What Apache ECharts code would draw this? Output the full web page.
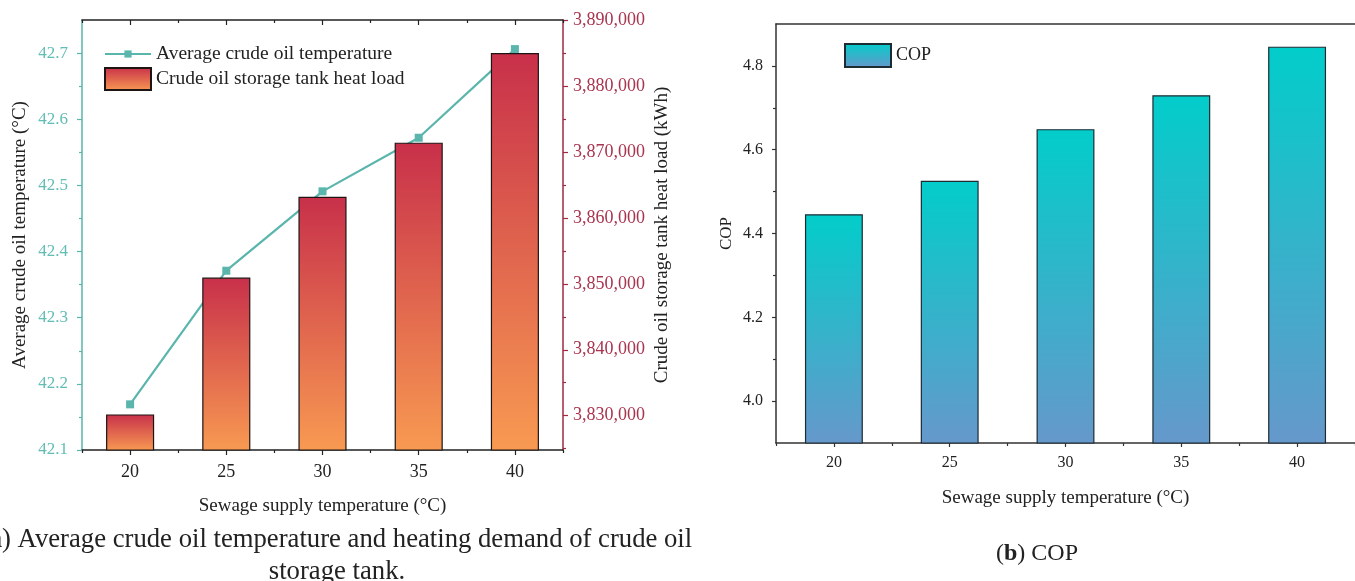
<!DOCTYPE html>
<html>
<head>
<meta charset="utf-8">
<script src="https://cdn.jsdelivr.net/npm/echarts@6/dist/echarts.min.js"></script>
<style>
html,body{margin:0;padding:0;background:#fff;}
#chart{width:1355px;height:581px;}
</style>
</head>
<body>
<div id="chart"></div>
<script>
// ---- data ----
var categories = ['20', '25', '30', '35', '40'];
var avgOilTemp = [42.169, 42.371, 42.491, 42.572, 42.706];
var tankHeatLoad = [3830200, 3850950, 3863200, 3871400, 3885000];
var copValues = [4.446, 4.526, 4.649, 4.730, 4.846];

var tempTicks = [42.1, 42.2, 42.3, 42.4, 42.5, 42.6, 42.7];
var tempMinorTicks = [42.15, 42.25, 42.35, 42.45, 42.55, 42.65];
var loadTicks = [3830000, 3840000, 3850000, 3860000, 3870000, 3880000, 3890000];
var loadMinorTicks = [3825000, 3835000, 3845000, 3855000, 3865000, 3875000, 3885000];
var copTicks = [4.0, 4.2, 4.4, 4.6, 4.8];
var copMinorTicks = [4.1, 4.3, 4.5, 4.7];

var FONT = '"Liberation Serif", "DejaVu Serif", serif';
var TEAL = '#5ab5ac';
var TEAL_LABEL = '#62bdb5';
var DARKRED = '#9e2a40';
var DARKRED_LABEL = '#a8344e';
var BLACK = '#222';

var chart = echarts.init(document.getElementById('chart'), null, {renderer: 'canvas'});

function catAxis(grid, opts) {
  var base = {
    type: 'category', gridIndex: grid, data: categories, boundaryGap: true,
    axisLine: {show: false}, axisLabel: {show: false}, axisTick: {show: false},
    splitLine: {show: false}
  };
  return Object.assign(base, opts);
}
function valAxis(grid, min, max, opts) {
  var base = {
    type: 'value', gridIndex: grid, min: min, max: max, scale: true,
    axisLine: {show: false}, axisLabel: {show: false}, axisTick: {show: false},
    splitLine: {show: false}
  };
  return Object.assign(base, opts);
}

var option = {
  animation: false,
  backgroundColor: '#fff',
  textStyle: {fontFamily: FONT},
  grid: [
    {left: 82, top: 20, right: 792, bottom: 131, containLabel: false},
    {left: 776, top: 24, right: -7, bottom: 138, containLabel: false}
  ],
  legend: [
    {
      data: [{name: 'Average crude oil temperature'}],
      left: 104, top: 44, padding: 0, itemWidth: 46, itemHeight: 9,
      textStyle: {fontFamily: FONT, fontSize: 19.5, color: BLACK}
    },
    {
      data: [{name: 'Crude oil storage tank heat load', icon: 'rect'}],
      left: 104, top: 67, padding: 0, itemWidth: 46, itemHeight: 22,
      textStyle: {fontFamily: FONT, fontSize: 19.5, color: BLACK}
    },
    {
      data: [{name: 'COP', icon: 'rect'}],
      left: 844, top: 43, padding: 0, itemWidth: 46, itemHeight: 23,
      textStyle: {fontFamily: FONT, fontSize: 18, color: BLACK}
    }
  ],
  xAxis: [
    // left chart bottom (labels + major ticks)
    catAxis(0, {
      position: 'bottom',
      axisLine: {show: true, lineStyle: {color: BLACK, width: 1.5}},
      axisTick: {show: true, alignWithLabel: true, length: 5, lineStyle: {color: BLACK, width: 1.2}},
      axisLabel: {show: true, fontFamily: FONT, fontSize: 18, color: BLACK, margin: 13},
      name: 'Sewage supply temperature (\u00B0C)', nameLocation: 'middle', nameGap: 47,
      nameTextStyle: {fontFamily: FONT, fontSize: 19, color: BLACK}
    }),
    // left chart bottom minor ticks
    catAxis(0, {
      position: 'bottom',
      axisTick: {show: true, alignWithLabel: false, length: 3, lineStyle: {color: BLACK, width: 1.2}}
    }),
    // left chart top border
    catAxis(0, {
      position: 'top',
      axisLine: {show: true, lineStyle: {color: BLACK, width: 1.5}},
      axisTick: {show: true, inside: true, alignWithLabel: true, length: 5, lineStyle: {color: BLACK, width: 1.2}}
    }),
    catAxis(0, {
      position: 'top',
      axisTick: {show: true, inside: true, alignWithLabel: false, length: 3, lineStyle: {color: BLACK, width: 1.2}}
    }),
    // right chart bottom
    catAxis(1, {
      position: 'bottom',
      axisLine: {show: true, lineStyle: {color: '#333', width: 1.5}},
      axisTick: {show: true, alignWithLabel: true, length: 4, lineStyle: {color: '#333', width: 1.2}},
      axisLabel: {show: true, fontFamily: FONT, fontSize: 16, color: BLACK, margin: 12},
      name: 'Sewage supply temperature (\u00B0C)', nameLocation: 'middle', nameGap: 46,
      nameTextStyle: {fontFamily: FONT, fontSize: 19, color: BLACK}
    }),
    catAxis(1, {
      position: 'bottom',
      axisTick: {show: true, alignWithLabel: false, length: 3, lineStyle: {color: '#333', width: 1.2}}
    }),
    catAxis(1, {
      position: 'top',
      axisLine: {show: true, lineStyle: {color: '#333', width: 1.5}}
    })
  ],
  yAxis: [
    // left chart: temperature axis
    valAxis(0, 42.1, 42.75, {
      position: 'left',
      axisLine: {show: true, lineStyle: {color: TEAL, width: 1.5}},
      axisTick: {show: true, length: 5, customValues: tempTicks, lineStyle: {color: TEAL, width: 1.2}},
      axisLabel: {show: true, customValues: tempTicks, fontFamily: FONT, fontSize: 17, color: TEAL_LABEL, margin: 14,
        formatter: function (v) { return Number(v).toFixed(1); }},
      name: 'Average crude oil temperature (\u00B0C)', nameLocation: 'middle', nameGap: 52,
      nameTextStyle: {fontFamily: FONT, fontSize: 19, color: BLACK}
    }),
    valAxis(0, 42.1, 42.75, {
      position: 'left',
      axisTick: {show: true, length: 3, customValues: tempMinorTicks, lineStyle: {color: TEAL, width: 1.2}}
    }),
    // left chart: heat load axis
    valAxis(0, 3824800, 3890000, {
      position: 'right',
      axisLine: {show: true, lineStyle: {color: DARKRED, width: 1.5}},
      axisTick: {show: true, length: 5, customValues: loadTicks, lineStyle: {color: DARKRED, width: 1.2}},
      axisLabel: {show: true, customValues: loadTicks, fontFamily: FONT, fontSize: 18, color: DARKRED_LABEL, margin: 10,
        formatter: function (v) { return Number(v).toLocaleString('en-US'); }},
      name: 'Crude oil storage tank heat load (kWh)', nameLocation: 'middle', nameGap: 90,
      nameTextStyle: {fontFamily: FONT, fontSize: 19, color: BLACK}
    }),
    valAxis(0, 3824800, 3890000, {
      position: 'right',
      axisTick: {show: true, length: 3, customValues: loadMinorTicks, lineStyle: {color: DARKRED, width: 1.2}}
    }),
    // right chart: COP axis
    valAxis(1, 3.9, 4.9, {
      position: 'left',
      axisLine: {show: true, lineStyle: {color: '#333', width: 1.5}},
      axisTick: {show: true, length: 4, customValues: copTicks, lineStyle: {color: '#333', width: 1.2}},
      axisLabel: {show: true, customValues: copTicks, fontFamily: FONT, fontSize: 16, color: BLACK, margin: 13,
        formatter: function (v) { return Number(v).toFixed(1); }},
      name: 'COP', nameLocation: 'middle', nameGap: 41,
      nameTextStyle: {fontFamily: FONT, fontSize: 17, color: BLACK}
    }),
    valAxis(1, 3.9, 4.9, {
      position: 'left',
      axisTick: {show: true, length: 3, customValues: copMinorTicks, lineStyle: {color: '#333', width: 1.2}}
    })
  ],
  series: [
    {
      name: 'Average crude oil temperature',
      type: 'line', xAxisIndex: 0, yAxisIndex: 0, z: 1,
      data: avgOilTemp,
      symbol: 'rect', symbolSize: 8,
      lineStyle: {color: TEAL, width: 2.2},
      itemStyle: {color: TEAL}
    },
    {
      name: 'Crude oil storage tank heat load',
      type: 'bar', xAxisIndex: 0, yAxisIndex: 2, z: 3,
      barWidth: '50%',
      data: tankHeatLoad,
      itemStyle: {
        color: new echarts.graphic.LinearGradient(0, 0, 0, 1, [
          {offset: 0, color: '#c8304a'},
          {offset: 1, color: '#f89a52'}
        ]),
        borderColor: '#1e1414', borderWidth: 1.2
      }
    },
    {
      name: 'COP',
      type: 'bar', xAxisIndex: 4, yAxisIndex: 4, z: 3,
      barWidth: '50%',
      data: copValues,
      itemStyle: {
        color: new echarts.graphic.LinearGradient(0, 0, 0, 1, [
          {offset: 0, color: '#02cdca'},
          {offset: 1, color: '#6698cb'}
        ]),
        borderColor: '#1d2b33', borderWidth: 1.2
      }
    }
  ],
  graphic: [
    {
      type: 'text', x: 336, y: 540,
      style: {
        text: '({b|a}) Average crude oil temperature and heating demand of crude oil',
        rich: {b: {fontWeight: 'bold', fontFamily: FONT, fontSize: 26.7, fill: BLACK}},
        font: '26.7px ' + FONT, fill: BLACK, align: 'center', verticalAlign: 'middle'
      }
    },
    {
      type: 'text', x: 337, y: 572,
      style: {
        text: 'storage tank.', font: '26.7px ' + FONT, fill: BLACK, align: 'center', verticalAlign: 'middle'
      }
    },
    {
      type: 'text', x: 1037, y: 554,
      style: {
        text: '({b|b}) COP',
        rich: {b: {fontWeight: 'bold', fontFamily: FONT, fontSize: 24, fill: BLACK}},
        font: '24px ' + FONT, fill: BLACK, align: 'center', verticalAlign: 'middle'
      }
    }
  ]
};
chart.setOption(option);
</script>
</body>
</html>
